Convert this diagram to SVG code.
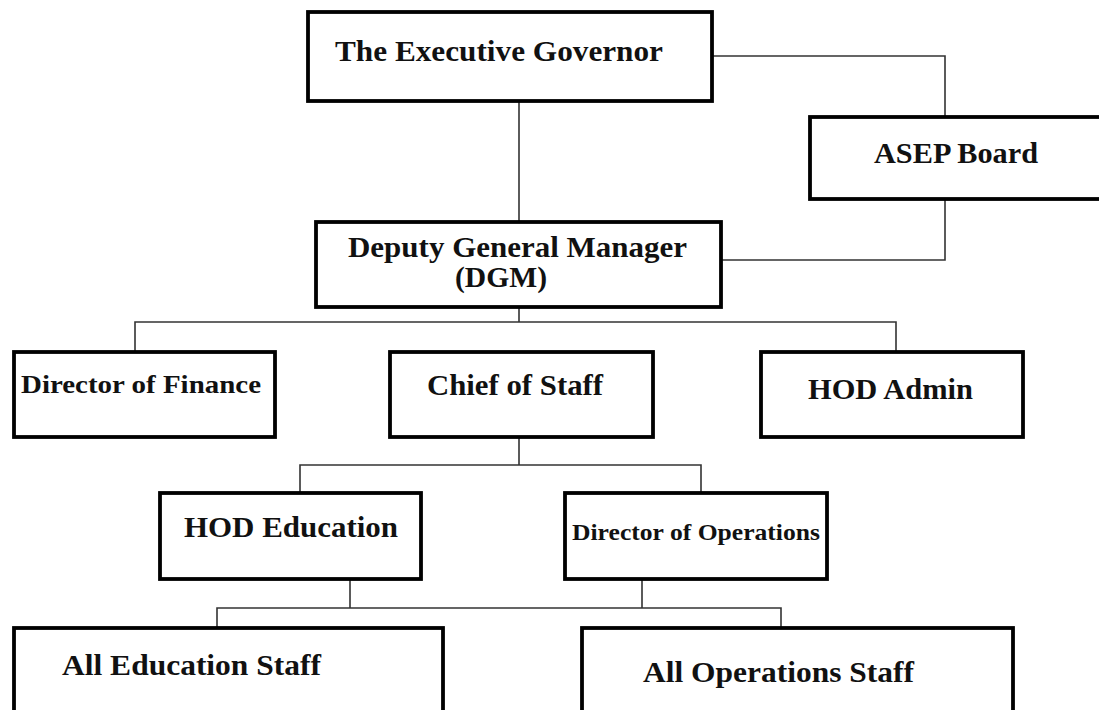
<svg xmlns="http://www.w3.org/2000/svg" width="1099" height="710" viewBox="0 0 1099 710">
<style>
.box{fill:#fff;stroke:#000;stroke-width:3.8}
.t{font-family:"Liberation Serif","DejaVu Serif",serif;font-weight:bold;fill:#111;font-size:30px}
.c{fill:none;stroke:#333;stroke-width:1.6}
</style>
<rect width="1099" height="710" fill="#fff"/>
<g id="connectors">
<path class="c" d="M712 56H945V117"/>
<path class="c" d="M945 199V260H721"/>
<path class="c" d="M519 101V222"/>
<path class="c" d="M519 307V322M135 352V322H896V352"/>
<path class="c" d="M519 437V465M300 493V465H701V493"/>
<path class="c" d="M350 579V608M642 579V608M217 628V608H781V628"/>
</g>
<g id="executive-governor"><rect class="box" x="308" y="12" width="404" height="89"/><text class="t" x="335" y="61" textLength="328" lengthAdjust="spacingAndGlyphs">The Executive Governor</text></g>
<g id="asep-board"><rect class="box" x="810" y="117" width="310" height="82"/><text class="t" x="874" y="163" textLength="164" lengthAdjust="spacingAndGlyphs">ASEP Board</text></g>
<g id="dgm"><rect class="box" x="316" y="222" width="405" height="85"/><text class="t" x="348" y="257" textLength="339" lengthAdjust="spacingAndGlyphs">Deputy General Manager</text><text class="t" x="455" y="287" textLength="92" lengthAdjust="spacingAndGlyphs">(DGM)</text></g>
<g id="director-finance"><rect class="box" x="14" y="352" width="261" height="85"/><text class="t" x="21" y="393" textLength="240" lengthAdjust="spacingAndGlyphs" style="font-size:26px">Director of Finance</text></g>
<g id="chief-of-staff"><rect class="box" x="390" y="352" width="263" height="85"/><text class="t" x="427" y="395" textLength="176" lengthAdjust="spacingAndGlyphs">Chief of Staff</text></g>
<g id="hod-admin"><rect class="box" x="761" y="352" width="262" height="85"/><text class="t" x="808" y="399" textLength="165" lengthAdjust="spacingAndGlyphs">HOD Admin</text></g>
<g id="hod-education"><rect class="box" x="160" y="493" width="261" height="86"/><text class="t" x="184" y="537" textLength="214" lengthAdjust="spacingAndGlyphs">HOD Education</text></g>
<g id="director-operations"><rect class="box" x="565" y="493" width="262" height="86"/><text class="t" x="572" y="540" textLength="248" lengthAdjust="spacingAndGlyphs" style="font-size:23px">Director of Operations</text></g>
<g id="all-education-staff"><rect class="box" x="14" y="628" width="429" height="100"/><text class="t" x="62" y="675" textLength="259" lengthAdjust="spacingAndGlyphs">All Education Staff</text></g>
<g id="all-operations-staff"><rect class="box" x="582" y="628" width="431" height="100"/><text class="t" x="643" y="682" textLength="271" lengthAdjust="spacingAndGlyphs">All Operations Staff</text></g>
</svg>
